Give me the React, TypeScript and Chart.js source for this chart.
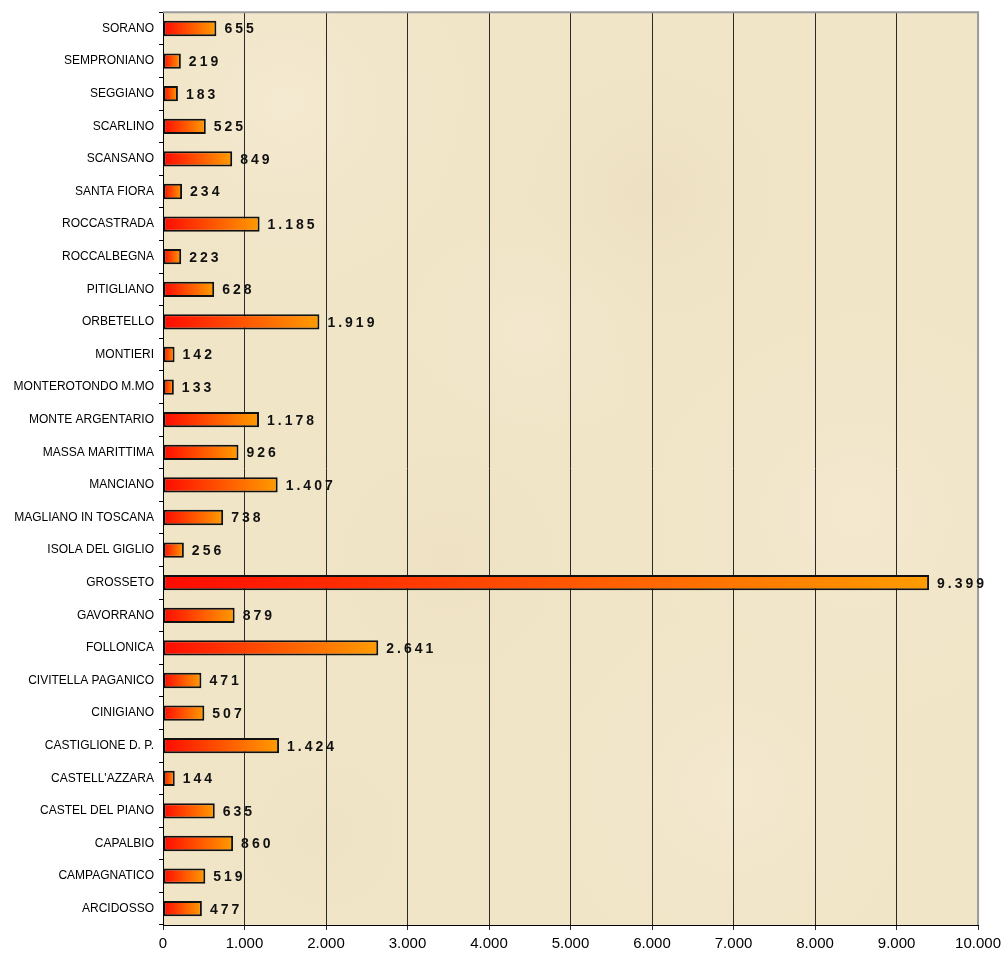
import React, { useEffect, useRef } from 'react';
import { Chart, registerables } from 'chart.js';

Chart.register(...registerables);

const categories: string[] = [
  'SORANO', 'SEMPRONIANO', 'SEGGIANO', 'SCARLINO', 'SCANSANO', 'SANTA FIORA',
  'ROCCASTRADA', 'ROCCALBEGNA', 'PITIGLIANO', 'ORBETELLO', 'MONTIERI',
  'MONTEROTONDO M.MO', 'MONTE ARGENTARIO', 'MASSA MARITTIMA', 'MANCIANO',
  'MAGLIANO IN TOSCANA', 'ISOLA DEL GIGLIO', 'GROSSETO', 'GAVORRANO',
  'FOLLONICA', 'CIVITELLA PAGANICO', 'CINIGIANO', 'CASTIGLIONE D. P.',
  "CASTELL'AZZARA", 'CASTEL DEL PIANO', 'CAPALBIO', 'CAMPAGNATICO', 'ARCIDOSSO',
];

const values: number[] = [
  655, 219, 183, 525, 849, 234,
  1185, 223, 628, 1919, 142,
  133, 1178, 926, 1407,
  738, 256, 9399, 879,
  2641, 471, 507, 1424,
  144, 635, 860, 519, 477,
];

const xMin = 0;
const xMax = 10000;
const xStep = 1000;

const FONT = '"Liberation Sans", Arial, Helvetica, sans-serif';

const fmt = (n: number) => String(n).replace(/\B(?=(\d{3})+(?!\d))/g, '.');

const backgroundPlugin = {
  id: 'parchment',
  beforeDraw(chart: any) {
    const { ctx, chartArea: a } = chart;
    if (!a) return;
    ctx.save();
    ctx.fillStyle = '#F1E5C8';
    ctx.fillRect(a.left, a.top, a.right - a.left, a.bottom - a.top);
    const w = a.right - a.left;
    const h = a.bottom - a.top;
    const spots = [
      [0.15, 0.1, 0.22, 'rgba(247,238,216,0.6)'],
      [0.6, 0.2, 0.25, 'rgba(232,218,186,0.4)'],
      [0.85, 0.55, 0.25, 'rgba(247,238,216,0.5)'],
      [0.35, 0.6, 0.25, 'rgba(233,219,188,0.35)'],
      [0.7, 0.85, 0.22, 'rgba(247,238,216,0.5)'],
      [0.2, 0.9, 0.18, 'rgba(234,221,190,0.35)'],
      [0.45, 0.35, 0.15, 'rgba(246,236,212,0.5)'],
    ] as [number, number, number, string][];
    for (const [fx, fy, fr, col] of spots) {
      const cx = a.left + fx * w;
      const cy = a.top + fy * h;
      const r = fr * Math.max(w, h);
      const g = ctx.createRadialGradient(cx, cy, 0, cx, cy, r);
      g.addColorStop(0, col);
      g.addColorStop(1, 'rgba(241,229,200,0)');
      ctx.fillStyle = g;
      ctx.fillRect(a.left, a.top, w, h);
    }
    ctx.restore();
  },
  afterDraw(chart: any) {
    const { ctx, chartArea: a } = chart;
    ctx.save();
    ctx.strokeStyle = '#9a9a9a';
    ctx.lineWidth = 2;
    ctx.beginPath();
    ctx.moveTo(a.left, a.top);
    ctx.lineTo(a.right, a.top);
    ctx.lineTo(a.right, a.bottom);
    ctx.stroke();
    ctx.restore();

    const meta = chart.getDatasetMeta(0);
    ctx.save();
    ctx.font = `bold 14px ${FONT}`;
    (ctx as any).letterSpacing = '3px';
    ctx.fillStyle = '#111';
    ctx.textAlign = 'left';
    ctx.textBaseline = 'middle';
    meta.data.forEach((el: any, i: number) => {
      ctx.fillText(fmt(values[i]), el.x + 8, el.y + 1);
    });
    ctx.restore();
  },
};

export default function App() {
  const ref = useRef<HTMLCanvasElement | null>(null);

  useEffect(() => {
    if (!ref.current) return;
    const chart = new Chart(ref.current, {
      type: 'bar',
      data: {
        labels: categories,
        datasets: [
          {
            data: values,
            backgroundColor: (c: any) => {
              const chart = c.chart;
              const x = chart.scales?.x;
              if (!x || c.dataIndex === undefined) return '#FF6600';
              const x0 = x.getPixelForValue(0);
              const x1 = x.getPixelForValue(values[c.dataIndex]);
              if (!isFinite(x0) || !isFinite(x1) || x1 - x0 < 1) return '#FF3300';
              const g = chart.ctx.createLinearGradient(x0, 0, x1, 0);
              g.addColorStop(0, '#FF0A00');
              g.addColorStop(1, '#FF9C00');
              return g;
            },
            borderColor: '#111',
            borderWidth: 2,
            borderSkipped: false,
            barPercentage: 0.47,
            categoryPercentage: 1,
          },
        ],
      },
      options: {
        indexAxis: 'y',
        responsive: true,
        maintainAspectRatio: false,
        animation: false,
        layout: { padding: { left: 0, top: 11, right: 27, bottom: 0 } },
        plugins: {
          legend: { display: false },
          tooltip: { enabled: false },
          title: { display: false },
        },
        scales: {
          x: {
            type: 'linear',
            min: xMin,
            max: xMax,
            ticks: {
              stepSize: xStep,
              color: '#000',
              font: { family: FONT, size: 15 },
              padding: 5,
              maxRotation: 0,
              callback: (v: any) => fmt(Number(v)),
            },
            grid: {
              color: '#2a2a2a',
              lineWidth: 1,
              tickLength: 5,
              drawOnChartArea: true,
            },
            border: { display: true, color: '#000', width: 1 },
            afterFit: (s: any) => { s.height = 30; },
          },
          y: {
            type: 'category',
            offset: true,
            ticks: {
              color: '#000',
              font: { family: FONT, size: 12 },
              padding: 5,
              autoSkip: false,
            },
            grid: {
              display: true,
              offset: true,
              drawOnChartArea: false,
              tickLength: 4,
              color: '#000',
            },
            border: { display: true, color: '#000', width: 1 },
            afterFit: (s: any) => { s.width = 163; },
          },
        },
      },
      plugins: [backgroundPlugin],
    });
    return () => chart.destroy();
  }, []);

  return (
    <div style={{ position: 'fixed', left: 0, top: 0, width: 1006, height: 955, background: '#fff' }}>
      <canvas ref={ref} />
    </div>
  );
}
